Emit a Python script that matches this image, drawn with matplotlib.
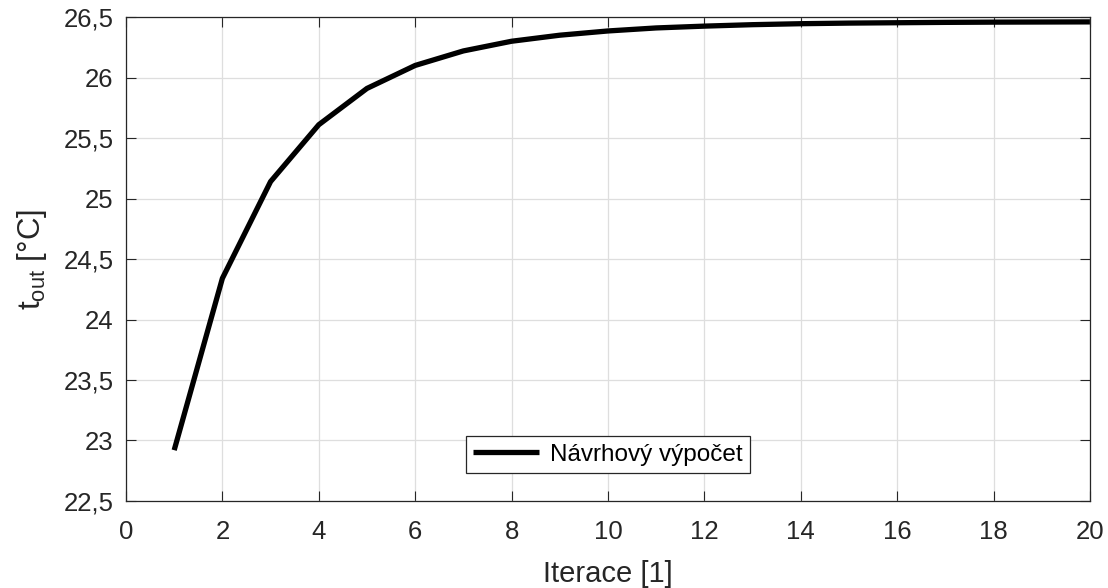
import numpy as np
import matplotlib
matplotlib.use("Agg")
import matplotlib.pyplot as plt

plt.rcParams['font.family'] = ['Liberation Sans', 'DejaVu Sans']
plt.rcParams['mathtext.fontset'] = 'custom'
plt.rcParams['mathtext.rm'] = 'Liberation Sans'
plt.rcParams['mathtext.it'] = 'Liberation Sans'

# outlet temperature per iteration
iterations = np.arange(1, 21)
t_out = [22.92, 24.34, 25.14, 25.61, 25.91, 26.10, 26.22, 26.30, 26.35, 26.385,
         26.41, 26.425, 26.437, 26.445, 26.45, 26.453, 26.456, 26.458, 26.459, 26.46]

xticks = np.arange(0, 21, 2)
yticks = [22.5, 23, 23.5, 24, 24.5, 25, 25.5, 26, 26.5]
ytick_labels = ['22,5', '23', '23,5', '24', '24,5', '25', '25,5', '26', '26,5']

fig = plt.figure(figsize=(11.08, 5.88), dpi=100)
ax = fig.add_axes([0.1137, 0.148, 0.870, 0.823])

ax.plot(iterations, t_out, color='black', linewidth=3.8, label='Návrhový výpočet',
        solid_capstyle='butt')

ax.set_xlim(0, 20)
ax.set_ylim(22.5, 26.5)
ax.set_xticks(xticks)
ax.set_yticks(yticks)
ax.set_yticklabels(ytick_labels)
ax.grid(True, color='#dedede', linewidth=0.9)
ax.set_axisbelow(True)

ax.tick_params(direction='in', length=7, width=0.8, top=True, right=True,
               labelsize=18.5, colors='#262626')
ax.tick_params(axis='x', pad=14)
ax.tick_params(axis='y', pad=9)
for s in ax.spines.values():
    s.set_color('#262626')
    s.set_linewidth(0.9)

ax.set_xlabel('Iterace [1]', fontsize=21, color='#262626')
ax.set_ylabel(r'$\mathregular{t_{out}}$ [°C]', fontsize=22.5, color='#262626')
ax.xaxis.set_label_coords(0.5, -0.122)
ax.yaxis.set_label_coords(-0.08, 0.5)

leg = ax.legend(loc='lower center', bbox_to_anchor=(0.5, 0.058), fontsize=17.5,
                frameon=True, fancybox=False, handlelength=2.7, borderpad=0.3,
                handletextpad=0.45, borderaxespad=0)
leg.get_frame().set_edgecolor('#262626')
leg.get_frame().set_linewidth(0.9)
leg.get_frame().set_alpha(1)

fig.savefig('out.png', dpi=100)
